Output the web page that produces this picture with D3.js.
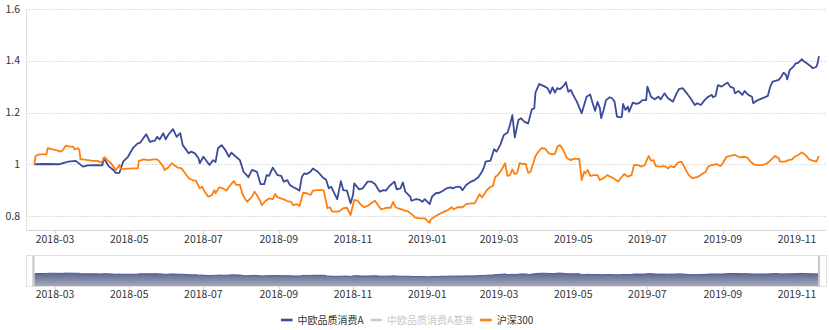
<!DOCTYPE html>
<html><head><meta charset="utf-8">
<script src="https://cdn.jsdelivr.net/npm/d3@7"></script>
<style>
body{margin:0;background:#fff}
svg{display:block}
text{font-family:"Noto Sans CJK SC","Noto Sans",sans-serif}
</style>
</head><body><svg id="c" width="829" height="330"></svg>
<script>
const seriesNames = ["中欧品质消费A", "中欧品质消费A基准", "沪深300"];
const yTicks = [0.8, 1, 1.2, 1.4, 1.6];
const xTickLabels = ["2018-03","2018-05","2018-07","2018-09","2018-11","2019-01","2019-03","2019-05","2019-07","2019-09","2019-11"];

const fundDates = ["2018-02-12","2018-02-21","2018-03-04","2018-03-12","2018-03-18","2018-03-24","2018-03-28","2018-04-03","2018-04-09","2018-04-10","2018-04-14","2018-04-18","2018-04-20","2018-04-23","2018-04-26","2018-04-30","2018-05-04","2018-05-08","2018-05-10","2018-05-15","2018-05-18","2018-05-22","2018-05-24","2018-05-26","2018-05-29","2018-05-31","2018-06-02","2018-06-06","2018-06-09","2018-06-12","2018-06-14","2018-06-19","2018-06-21","2018-06-24","2018-06-27","2018-06-28","2018-07-01","2018-07-06","2018-07-09","2018-07-11","2018-07-13","2018-07-16","2018-07-19","2018-07-22","2018-07-24","2018-07-27","2018-07-31","2018-08-03","2018-08-07","2018-08-10","2018-08-14","2018-08-17","2018-08-20","2018-08-22","2018-08-24","2018-08-27","2018-08-31","2018-09-03","2018-09-05","2018-09-08","2018-09-10","2018-09-13","2018-09-16","2018-09-18","2018-09-20","2018-09-22","2018-09-24","2018-09-27","2018-09-29","2018-10-03","2018-10-07","2018-10-10","2018-10-12","2018-10-14","2018-10-16","2018-10-19","2018-10-22","2018-10-24","2018-10-27","2018-10-30","2018-11-01","2018-11-02","2018-11-06","2018-11-09","2018-11-13","2018-11-16","2018-11-19","2018-11-23","2018-11-26","2018-11-28","2018-12-01","2018-12-05","2018-12-07","2018-12-10","2018-12-12","2018-12-14","2018-12-18","2018-12-19","2018-12-23","2018-12-26","2018-12-28","2018-12-30","2019-01-03","2019-01-05","2019-01-08","2019-01-11","2019-01-14","2019-01-17","2019-01-20","2019-01-22","2019-01-25","2019-01-28","2019-01-30","2019-02-02","2019-02-06","2019-02-09","2019-02-12","2019-02-15","2019-02-17","2019-02-18","2019-02-22","2019-02-25","2019-02-27","2019-03-02","2019-03-05","2019-03-08","2019-03-10","2019-03-12","2019-03-14","2019-03-17","2019-03-19","2019-03-22","2019-03-25","2019-03-28","2019-03-30","2019-03-31","2019-04-03","2019-04-07","2019-04-10","2019-04-12","2019-04-14","2019-04-16","2019-04-18","2019-04-20","2019-04-23","2019-04-25","2019-04-27","2019-04-29","2019-05-01","2019-05-04","2019-05-08","2019-05-10","2019-05-12","2019-05-15","2019-05-17","2019-05-19","2019-05-21","2019-05-23","2019-05-24","2019-05-26","2019-05-28","2019-05-31","2019-06-02","2019-06-04","2019-06-06","2019-06-09","2019-06-10","2019-06-11","2019-06-13","2019-06-15","2019-06-16","2019-06-19","2019-06-22","2019-06-24","2019-06-27","2019-06-30","2019-07-01","2019-07-03","2019-07-04","2019-07-07","2019-07-10","2019-07-12","2019-07-15","2019-07-18","2019-07-22","2019-07-25","2019-07-27","2019-07-30","2019-08-02","2019-08-06","2019-08-09","2019-08-11","2019-08-14","2019-08-17","2019-08-20","2019-08-23","2019-08-24","2019-08-26","2019-08-28","2019-08-31","2019-09-03","2019-09-05","2019-09-07","2019-09-10","2019-09-11","2019-09-14","2019-09-17","2019-09-19","2019-09-22","2019-09-25","2019-09-26","2019-09-29","2019-10-08","2019-10-10","2019-10-12","2019-10-17","2019-10-19","2019-10-21","2019-10-23","2019-10-24","2019-10-26","2019-10-29","2019-10-31","2019-11-02","2019-11-05","2019-11-07","2019-11-09","2019-11-12","2019-11-14","2019-11-17","2019-11-18","2019-11-19"];
const fundValues = [1.000,1.001,1.000,1.010,1.013,0.991,0.996,0.997,0.996,1.024,0.993,0.978,0.967,0.967,1.010,1.029,1.062,1.081,1.083,1.116,1.087,1.091,1.106,1.096,1.120,1.096,1.113,1.136,1.106,1.120,1.074,1.042,1.049,1.042,1.023,1.004,1.029,0.997,1.016,1.009,1.062,1.074,1.055,1.029,1.045,1.032,1.016,0.971,0.950,0.978,0.971,0.923,0.923,0.958,0.955,0.987,0.958,0.955,0.933,0.939,0.920,0.911,0.904,0.898,0.952,0.965,0.962,0.971,0.984,0.971,0.950,0.939,0.907,0.913,0.894,0.865,0.935,0.900,0.898,0.849,0.881,0.926,0.903,0.907,0.933,0.933,0.924,0.894,0.900,0.898,0.916,0.933,0.903,0.907,0.930,0.894,0.875,0.859,0.865,0.862,0.855,0.865,0.846,0.875,0.888,0.890,0.898,0.907,0.911,0.907,0.913,0.913,0.900,0.920,0.933,0.939,0.950,0.971,0.993,1.010,1.014,1.058,1.049,1.074,1.113,1.122,1.152,1.190,1.104,1.171,1.178,1.164,1.158,1.212,1.216,1.277,1.310,1.302,1.294,1.274,1.297,1.277,1.294,1.290,1.302,1.317,1.280,1.287,1.268,1.242,1.197,1.229,1.261,1.270,1.236,1.207,1.241,1.216,1.178,1.210,1.248,1.259,1.255,1.242,1.184,1.181,1.184,1.233,1.210,1.222,1.203,1.238,1.233,1.236,1.248,1.248,1.300,1.274,1.261,1.251,1.261,1.251,1.274,1.255,1.242,1.274,1.290,1.294,1.277,1.251,1.229,1.236,1.229,1.248,1.261,1.268,1.259,1.264,1.306,1.300,1.310,1.315,1.300,1.294,1.274,1.283,1.268,1.283,1.268,1.261,1.236,1.246,1.264,1.300,1.319,1.326,1.338,1.354,1.345,1.328,1.364,1.377,1.390,1.392,1.406,1.396,1.390,1.380,1.371,1.377,1.392,1.418];

const indexDates = ["2018-02-12","2018-02-13","2018-02-16","2018-02-22","2018-02-23","2018-02-27","2018-03-02","2018-03-05","2018-03-07","2018-03-10","2018-03-13","2018-03-16","2018-03-17","2018-03-20","2018-03-21","2018-03-22","2018-03-24","2018-03-28","2018-04-01","2018-04-05","2018-04-08","2018-04-11","2018-04-13","2018-04-16","2018-04-18","2018-04-20","2018-04-23","2018-04-24","2018-04-28","2018-05-04","2018-05-08","2018-05-09","2018-05-13","2018-05-17","2018-05-21","2018-05-24","2018-05-26","2018-05-29","2018-05-30","2018-06-02","2018-06-05","2018-06-08","2018-06-10","2018-06-13","2018-06-16","2018-06-19","2018-06-22","2018-06-25","2018-06-28","2018-06-30","2018-07-02","2018-07-05","2018-07-08","2018-07-10","2018-07-11","2018-07-14","2018-07-17","2018-07-20","2018-07-22","2018-07-26","2018-07-28","2018-07-31","2018-08-02","2018-08-04","2018-08-06","2018-08-10","2018-08-12","2018-08-14","2018-08-17","2018-08-18","2018-08-21","2018-08-24","2018-08-27","2018-08-29","2018-08-31","2018-09-04","2018-09-08","2018-09-11","2018-09-13","2018-09-16","2018-09-18","2018-09-21","2018-09-24","2018-09-27","2018-09-29","2018-10-03","2018-10-07","2018-10-08","2018-10-11","2018-10-13","2018-10-15","2018-10-19","2018-10-21","2018-10-24","2018-10-27","2018-10-30","2018-11-02","2018-11-05","2018-11-07","2018-11-10","2018-11-13","2018-11-16","2018-11-19","2018-11-22","2018-11-24","2018-11-27","2018-11-30","2018-12-02","2018-12-04","2018-12-06","2018-12-08","2018-12-11","2018-12-14","2018-12-16","2018-12-19","2018-12-22","2018-12-26","2018-12-30","2019-01-01","2019-01-03","2019-01-04","2019-01-07","2019-01-11","2019-01-15","2019-01-18","2019-01-21","2019-01-23","2019-01-26","2019-01-30","2019-02-02","2019-02-06","2019-02-09","2019-02-12","2019-02-13","2019-02-15","2019-02-17","2019-02-19","2019-02-22","2019-02-24","2019-02-26","2019-02-28","2019-03-03","2019-03-06","2019-03-08","2019-03-10","2019-03-12","2019-03-14","2019-03-16","2019-03-18","2019-03-21","2019-03-23","2019-03-25","2019-03-27","2019-03-31","2019-04-03","2019-04-05","2019-04-08","2019-04-11","2019-04-14","2019-04-16","2019-04-18","2019-04-20","2019-04-22","2019-04-26","2019-04-29","2019-05-01","2019-05-06","2019-05-08","2019-05-10","2019-05-11","2019-05-13","2019-05-15","2019-05-18","2019-05-21","2019-05-23","2019-05-26","2019-05-29","2019-06-03","2019-06-07","2019-06-09","2019-06-12","2019-06-15","2019-06-18","2019-06-20","2019-06-23","2019-06-26","2019-06-29","2019-06-30","2019-07-02","2019-07-04","2019-07-06","2019-07-08","2019-07-11","2019-07-15","2019-07-18","2019-07-20","2019-07-23","2019-07-26","2019-07-29","2019-08-01","2019-08-04","2019-08-07","2019-08-11","2019-08-15","2019-08-18","2019-08-20","2019-08-23","2019-08-27","2019-08-30","2019-09-01","2019-09-04","2019-09-07","2019-09-11","2019-09-15","2019-09-18","2019-09-21","2019-09-23","2019-09-26","2019-09-29","2019-10-04","2019-10-08","2019-10-11","2019-10-14","2019-10-17","2019-10-18","2019-10-22","2019-10-25","2019-10-28","2019-10-30","2019-11-02","2019-11-05","2019-11-08","2019-11-11","2019-11-14","2019-11-17","2019-11-19"];
const indexValues = [1.000,1.032,1.038,1.038,1.062,1.058,1.055,1.049,1.052,1.072,1.068,1.068,1.058,1.062,1.055,1.019,1.019,1.016,1.013,1.013,1.006,1.027,1.016,1.004,0.991,0.978,0.997,0.983,0.982,0.984,0.984,1.013,1.019,1.016,1.019,1.019,1.010,0.991,0.978,0.987,1.004,0.993,0.987,0.984,0.965,0.946,0.939,0.936,0.907,0.913,0.894,0.875,0.881,0.900,0.888,0.911,0.907,0.898,0.913,0.935,0.920,0.920,0.888,0.868,0.855,0.875,0.894,0.881,0.855,0.842,0.858,0.868,0.865,0.885,0.872,0.866,0.858,0.855,0.842,0.846,0.839,0.890,0.888,0.881,0.898,0.900,0.900,0.898,0.830,0.834,0.817,0.817,0.819,0.830,0.832,0.804,0.862,0.859,0.846,0.834,0.839,0.849,0.859,0.839,0.826,0.830,0.832,0.832,0.855,0.834,0.830,0.826,0.820,0.819,0.808,0.795,0.791,0.791,0.782,0.774,0.787,0.797,0.808,0.817,0.823,0.834,0.826,0.834,0.834,0.846,0.849,0.849,0.875,0.884,0.872,0.885,0.900,0.913,0.916,0.952,0.958,0.978,1.004,0.955,0.958,0.980,0.962,0.967,1.004,1.001,1.001,0.967,0.971,1.032,1.052,1.062,1.060,1.042,1.038,1.040,1.068,1.074,1.062,1.023,1.016,1.021,1.021,0.939,0.971,0.965,0.978,0.955,0.958,0.958,0.939,0.946,0.958,0.946,0.933,0.946,0.962,0.952,0.958,0.997,0.997,0.991,0.997,1.010,1.032,1.014,1.016,0.993,0.991,0.993,0.984,0.993,0.988,1.006,1.010,0.984,0.958,0.946,0.950,0.962,0.971,0.991,0.997,1.001,0.993,1.004,1.029,1.032,1.036,1.027,1.029,1.027,1.014,1.001,0.997,0.997,1.006,1.019,1.032,1.023,1.010,1.010,1.016,1.019,1.029,1.036,1.046,1.036,1.019,1.014,1.010,1.032];

const colors = ["#3b4a9a", "#cccccc", "#ff7f0e"];
const parse = d3.utcParse("%Y-%m-%d");
const parseM = d3.utcParse("%Y-%m");
const fund = fundDates.map((d, i) => ({date: parse(d), value: fundValues[i]}));
const idx = indexDates.map((d, i) => ({date: parse(d), value: indexValues[i]}));

const svg = d3.select("#c");
const pL = 26, pR = 826, pT = 9, pB = 230;

const x = d3.scaleUtc()
  .domain([new Date(Date.UTC(2018,1,5,3,50)), new Date(Date.UTC(2019,10,24,20,10))])
  .range([pL, pR]);
const y = d3.scaleLinear().domain([0.746, 1.6]).range([pB, pT]);

// grid lines
svg.append("g").selectAll("line").data(yTicks).join("line")
  .attr("x1", pL).attr("x2", pR)
  .attr("y1", d => Math.round(y(d)) + 0.5).attr("y2", d => Math.round(y(d)) + 0.5)
  .attr("stroke", "#d4d4d4").attr("stroke-dasharray", "1.5,1.5");

// y axis
svg.append("line").attr("x1", pL + 0.5).attr("x2", pL + 0.5).attr("y1", pT).attr("y2", pB)
  .attr("stroke", "#e0e0e0");
svg.append("g").selectAll("text").data(yTicks).join("text")
  .attr("x", 20).attr("y", d => y(d)).attr("dy", "0.35em")
  .attr("text-anchor", "end").attr("font-size", 10.5).attr("fill", "#333")
  .text(d => d3.format("")(d));

// x axis
const xTickDates = xTickLabels.map(parseM);
svg.append("line").attr("x1", pL).attr("x2", pR).attr("y1", pB + 0.5).attr("y2", pB + 0.5)
  .attr("stroke", "#d8d8d8");
const gx = svg.append("g");
gx.selectAll("line").data(xTickDates).join("line")
  .attr("x1", d => Math.round(x(d)) + 0.5).attr("x2", d => Math.round(x(d)) + 0.5)
  .attr("y1", pB).attr("y2", pB + 4).attr("stroke", "#d8d8d8");
gx.selectAll("text").data(xTickLabels).join("text")
  .attr("x", (d, i) => x(xTickDates[i])).attr("y", 243)
  .attr("text-anchor", "middle").attr("font-size", 10.5).attr("fill", "#333").text(d => d);

// lines
const line = d3.line().x(d => x(d.date)).y(d => y(d.value));
svg.append("path").datum(fund).attr("d", line).attr("fill", "none")
  .attr("stroke", colors[0]).attr("stroke-width", 1.8).attr("stroke-linejoin", "round");
svg.append("path").datum(idx).attr("d", line).attr("fill", "none")
  .attr("stroke", colors[2]).attr("stroke-width", 1.8).attr("stroke-linejoin", "round");

// data zoom slider
const sTop = 255.5, sBot = 286.5;
const defs = svg.append("defs");
const grad = defs.append("linearGradient").attr("id", "sg").attr("x1", 0).attr("y1", 0).attr("x2", 0).attr("y2", 1);
grad.append("stop").attr("offset", "0%").attr("stop-color", "#5c6891");
grad.append("stop").attr("offset", "100%").attr("stop-color", "#a7acbc");
const ys = d3.scaleLinear().domain([0, 2.48]).range([sBot, sTop]);
const area = d3.area().x(d => x(d.date)).y0(sBot).y1(d => ys(d.value));
svg.append("path").datum(idx).attr("d", area).attr("fill", "url(#sg)");
svg.append("path").datum(idx).attr("d", d3.line().x(d => x(d.date)).y(d => ys(d.value)))
  .attr("fill", "none").attr("stroke", "#4a5a9c").attr("stroke-width", 1);
svg.append("rect").attr("x", pL + 0.5).attr("y", sTop).attr("width", pR - pL).attr("height", sBot - sTop)
  .attr("fill", "none").attr("stroke", "#e2e2e2");
const hStart = x(fund[0].date), hEnd = x(fund[fund.length - 1].date);
[hStart - 2, hEnd - 1].forEach(h => {
  svg.append("rect").attr("x", h).attr("y", sTop).attr("width", 2.2).attr("height", sBot - sTop)
    .attr("fill", "#c9c9c9");
});
const gs = svg.append("g");
gs.selectAll("line").data(xTickDates).join("line")
  .attr("x1", d => Math.round(x(d)) + 0.5).attr("x2", d => Math.round(x(d)) + 0.5)
  .attr("y1", sBot).attr("y2", sBot + 3.5).attr("stroke", "#d8d8d8");
gs.selectAll("text").data(xTickLabels).join("text")
  .attr("x", (d, i) => x(xTickDates[i])).attr("y", 298)
  .attr("text-anchor", "middle").attr("font-size", 10.5).attr("fill", "#333").text(d => d);

// legend
const lg = svg.append("g");
let lx = 281;
const ly = 320;
seriesNames.forEach((name, i) => {
  lg.append("line").attr("x1", lx).attr("x2", lx + 11.5).attr("y1", ly).attr("y2", ly)
    .attr("stroke", colors[i]).attr("stroke-width", 2.6);
  const t = lg.append("text").attr("x", lx + 16.5).attr("y", ly).attr("dy", "0.36em")
    .attr("font-size", 10).attr("fill", i === 1 ? "#c8c8c8" : "#333").text(name);
  lx = lx + 16.5 + t.node().getComputedTextLength() + 7;
});
</script>
</body></html>
